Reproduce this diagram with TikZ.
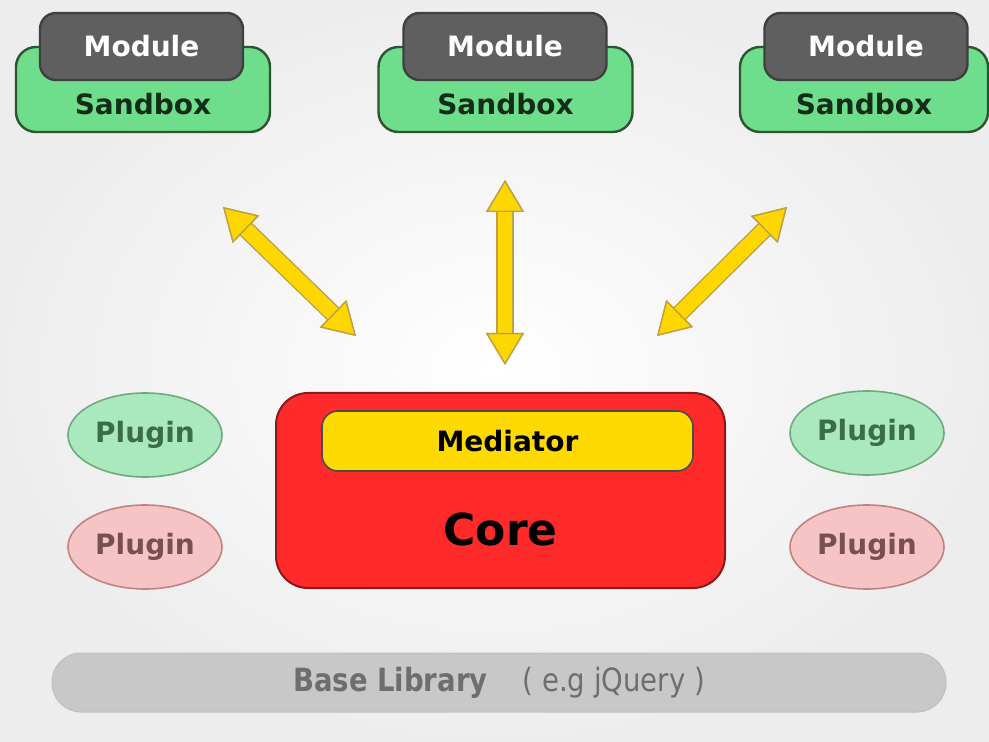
\documentclass[tikz,border=0pt]{standalone}
\usepackage{fontspec}
\setmainfont{DejaVu Sans}
\newfontfamily\basefont{DejaVu Sans}[FakeStretch=0.86]
\usepackage{tikz}
\usetikzlibrary{arrows.meta, shapes.geometric}

\definecolor{sandboxgreen}{RGB}{110,222,140}
\definecolor{sandboxedge}{RGB}{45,85,50}
\definecolor{sandboxtext}{RGB}{20,45,25}
\definecolor{modulegrey}{RGB}{95,95,95}
\definecolor{corered}{RGB}{255,42,42}
\definecolor{coreedge}{RGB}{140,25,25}
\definecolor{mediatoryellow}{RGB}{255,218,0}
\definecolor{linkyellow}{RGB}{255,215,0}
\definecolor{linkedge}{RGB}{190,160,70}
\definecolor{plugingreen}{RGB}{170,232,190}
\definecolor{plugingreenedge}{RGB}{110,170,125}
\definecolor{plugingreentext}{RGB}{60,110,70}
\definecolor{pluginpink}{RGB}{246,196,196}
\definecolor{pluginpinkedge}{RGB}{195,130,130}
\definecolor{pluginpinktext}{RGB}{120,80,80}
\definecolor{basegrey}{RGB}{200,200,200}
\definecolor{basetext}{RGB}{110,110,110}

\tikzset{
  lt/.tip={Triangle[width=19pt, length=16pt, fill=linkyellow, color=linkedge, line width=0.7pt]},
  sandbox/.style={draw=sandboxedge, fill=sandboxgreen, line width=1.2pt,
    rounded corners=10pt, minimum width=127pt, minimum height=42.5pt,
    inner ysep=0pt, text height=34pt, text depth=8.5pt,
    font=\bfseries\fontsize{14}{14}\selectfont, text=sandboxtext},
  module/.style={draw=black!75, fill=modulegrey, line width=1.2pt,
    rounded corners=8pt, minimum width=101.5pt, minimum height=33.5pt,
    font=\bfseries\fontsize{14}{14}\selectfont, text=white},
  plugin/.style={ellipse, line width=0.8pt, minimum width=77pt, minimum height=42pt,
    inner sep=0pt, font=\bfseries\fontsize{14}{14}\selectfont},
  linkout/.style={lt-lt, draw=linkedge, line width=8.8pt},
  link/.style={lt-lt, draw=linkyellow, line width=7.4pt}
}

\begin{document}
\begin{tikzpicture}[x=0.5pt, y=-0.5pt]
  \useasboundingbox (0,0) rectangle (989,742);
  \shade[inner color=white, outer color=black!7] (0,0) rectangle (989,742);

  % sandboxes with their modules
  \node[sandbox] (sb1) at (143,89.5) {Sandbox};
  \node[module] (m1) at (141.5,46.5) {Module};
  \node[sandbox] (sb2) at (505.5,89.5) {Sandbox};
  \node[module] (m2) at (505,46.5) {Module};
  \node[sandbox, minimum width=124pt] (sb3) at (864,89.5) {Sandbox};
  \node[module] (m3) at (866,46.5) {Module};

  % links between sandboxes and core
  \coordinate (l1a) at (223,207); \coordinate (l1b) at (356,336);
  \coordinate (l2a) at (505,180); \coordinate (l2b) at (505,365);
  \coordinate (l3a) at (787,207); \coordinate (l3b) at (657,336);
  \draw[linkout] (l1a) -- (l1b);
  \draw[link] (l1a) -- (l1b);
  \draw[linkout] (l2a) -- (l2b);
  \draw[link] (l2a) -- (l2b);
  \draw[linkout] (l3a) -- (l3b);
  \draw[link] (l3a) -- (l3b);

  % core
  \node[draw=coreedge, fill=corered, line width=1pt, rounded corners=16pt,
    minimum width=224.5pt, minimum height=97.5pt, inner ysep=0pt,
    text height=76pt, text depth=21.5pt,
    font=\bfseries\fontsize{22}{22}\selectfont] (core) at (500.5,490.5) {Core};
  \node[draw=black!70, fill=mediatoryellow, line width=0.8pt, rounded corners=8pt,
    minimum width=185.5pt, minimum height=30pt,
    font=\bfseries\fontsize{14}{14}\selectfont] (mediator) at (507.5,441) {Mediator};

  % plugins
  \node[plugin, draw=plugingreenedge, fill=plugingreen, text=plugingreentext] (p1) at (145,435) {Plugin};
  \node[plugin, draw=pluginpinkedge, fill=pluginpink, text=pluginpinktext] (p2) at (145,547) {Plugin};
  \node[plugin, draw=plugingreenedge, fill=plugingreen, text=plugingreentext] (p3) at (867,433) {Plugin};
  \node[plugin, draw=pluginpinkedge, fill=pluginpink, text=pluginpinktext] (p4) at (867,547) {Plugin};

  % base library
  \node[fill=basegrey, draw=black!25, line width=0.5pt, rounded corners=14.5pt,
    minimum width=447pt, minimum height=29.5pt, text=basetext,
    font=\basefont\fontsize{16}{16}\selectfont] (base) at (499,682.5)
    {{\bfseries Base Library}\hspace{1.1em}( e.g jQuery )};
\end{tikzpicture}
\end{document}
